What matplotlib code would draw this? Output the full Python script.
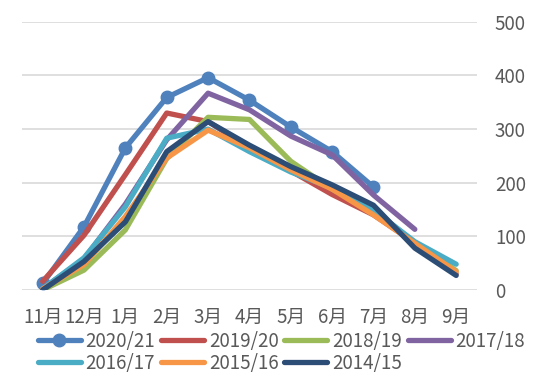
import numpy as np
import matplotlib
matplotlib.use('Agg')
import matplotlib.pyplot as plt

plt.rcParams['font.family'] = ['Noto Sans CJK SC', 'DejaVu Sans']

months = ['11月', '12月', '1月', '2月', '3月', '4月', '5月', '6月', '7月', '8月', '9月']
seasons = ['2020/21', '2019/20', '2018/19', '2017/18', '2016/17', '2015/16', '2014/15']
s2020 = [12, 118, 265, 359, 396, 354, 304, 258, 192]
s2019 = [16, 102, 215, 330, 314, 265, 222, 178, 140, 88, 30]
s2018 = [0, 37, 112, 245, 322, 318, 240, 188, 149, 88, 36]
s2017 = [2, 58, 160, 280, 367, 336, 287, 252, 177, 113]
s2016 = [2, 60, 155, 283, 300, 258, 220, 190, 149, 90, 48]
s2015 = [2, 47, 137, 246, 298, 265, 224, 188, 140, 87, 34]
s2014 = [0, 53, 127, 258, 314, 270, 230, 196, 158, 78, 27]
colors = ['#4F81BD', '#C0504D', '#9BBB59', '#8064A2', '#4BACC6', '#F79646', '#2C4D75']

series = [s2020, s2019, s2018, s2017, s2016, s2015, s2014]

fig = plt.figure(figsize=(5.5, 3.84), dpi=100)
ax = fig.add_axes([0.04, 0.245, 0.827, 0.698])

lines = []
for i, (name, vals) in enumerate(zip(seasons, series)):
    x = np.arange(len(vals))
    if i == 0:
        ln, = ax.plot(x, vals, color=colors[i], lw=3.8, marker='o', ms=9,
                      label=name, solid_capstyle='round', zorder=3 + i)
    else:
        ln, = ax.plot(x, vals, color=colors[i], lw=3.8, label=name,
                      solid_capstyle='round', zorder=3 + i)
    lines.append(ln)

ax.set_xlim(-0.5, 10.5)
ax.set_ylim(0, 500)
ax.set_yticks(range(0, 501, 100))
ax.set_xticks(range(len(months)))
ax.set_xticklabels(months)
ax.yaxis.tick_right()
ax.tick_params(axis='y', length=0, pad=13, labelsize=13.5, labelcolor='#595959')
ax.tick_params(axis='x', length=0, pad=12, labelsize=13.5, labelcolor='#595959')
ax.grid(axis='y', color='#d9d9d9', lw=1.2)
ax.set_axisbelow(True)
for sp in ax.spines.values():
    sp.set_visible(False)

# legend rows filled left to right
order = [0, 4, 1, 5, 2, 6, 3]
leg = fig.legend([lines[k] for k in order], [seasons[k] for k in order],
                 loc='lower left', bbox_to_anchor=(0.045, -0.008), ncol=4, frameon=False,
                 fontsize=13.5, handlelength=2.3, handletextpad=0.25, columnspacing=0.3,
                 labelspacing=0.05, borderaxespad=0.3)
for t in leg.get_texts():
    t.set_color('#595959')

fig.savefig('out.png', dpi=100)
